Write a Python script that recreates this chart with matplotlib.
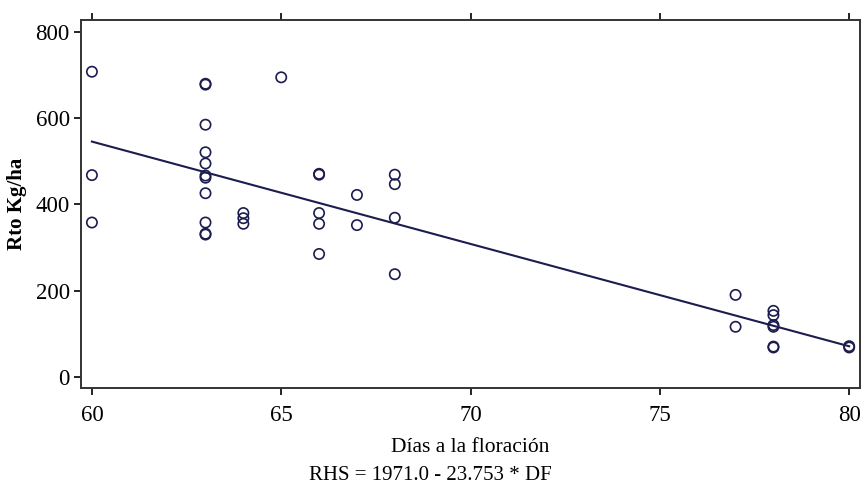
import numpy as np
import matplotlib.pyplot as plt

plt.rcParams['font.family'] = ['Liberation Serif', 'DejaVu Serif']

# Días a la floración vs Rto Kg/ha
dias = [60, 60, 60,
        63, 63, 63, 63, 63, 63, 63, 63, 63, 63, 63,
        64, 64, 64,
        65,
        66, 66, 66, 66, 66,
        67, 67,
        68, 68, 68, 68,
        77, 77,
        78, 78, 78, 78, 78, 78,
        80, 80]
rto = [708, 468, 358,
       680, 678, 585, 521, 495, 467, 462, 426, 358, 332, 330,
       380, 368, 355,
       695,
       471, 469, 380, 355, 285,
       422, 352,
       469, 447, 369, 238,
       190, 116,
       153, 143, 120, 116, 70, 68,
       71, 68]
# fit shown in the caption
b0, b1 = 1971.0, -23.753
xticks = [60, 65, 70, 75, 80]
yticks = [0, 200, 400, 600, 800]

navy = '#1c1c4e'
fig = plt.figure(figsize=(8.61, 4.88), dpi=100)
ax = fig.add_axes([0.094, 0.205, 0.905, 0.754])

ax.scatter(dias, rto, s=55, facecolors='none', edgecolors=navy, linewidths=1.2, zorder=3)
xl = np.array([min(dias), max(dias)])
ax.plot(xl, b0 + b1 * xl, color=navy, lw=1.5)

ax.set_xlim(59.71, 80.29)
ax.set_ylim(-26, 828)
ax.set_xticks(xticks)
ax.set_yticks(yticks)
ax.tick_params(axis='x', top=True, direction='out', length=5, width=1.2, labelsize=16.5, pad=7)
ax.tick_params(axis='y', direction='out', length=5, width=1.2, labelsize=16.5, pad=3)
for sp in ax.spines.values():
    sp.set_linewidth(1.4)
    sp.set_color('#333333')

ax.set_ylabel('Rto Kg/ha', fontsize=15, fontweight='bold', labelpad=6)
ax.set_xlabel('Días a la floración', fontsize=15.5, labelpad=9)
fig.text(0.5, 0.025, 'RHS = 1971.0 - 23.753 * DF', ha='center', va='center', fontsize=15)

fig.savefig('out.png', dpi=100)
